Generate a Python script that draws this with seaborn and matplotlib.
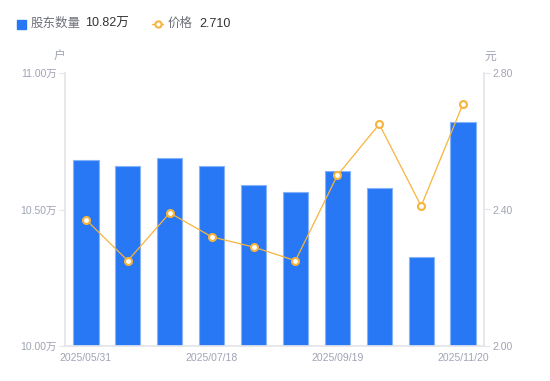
import numpy as np
import pandas as pd
import matplotlib
matplotlib.use("Agg")
import matplotlib.pyplot as plt
from matplotlib.lines import Line2D
import seaborn as sns

# data
dates = ["2025/05/31", "2025/06/20", "2025/06/30", "2025/07/18", "2025/08/08",
         "2025/08/29", "2025/09/19", "2025/09/30", "2025/10/31", "2025/11/20"]
holders = [10.68, 10.66, 10.69, 10.66, 10.59, 10.565, 10.64, 10.58, 10.325, 10.82]  # 万户
prices = [2.37, 2.25, 2.39, 2.32, 2.29, 2.25, 2.50, 2.65, 2.41, 2.71]  # 元
tick_idx = [0, 3, 6, 9]

sns.set_theme(style="white")
plt.rcParams['font.family'] = ['Liberation Sans', 'Noto Sans CJK SC', 'DejaVu Sans']

bar_color = "#2878F5"
line_color = "#F7B43C"
tick_color = "#A0A3B4"
axis_color = "#E3E5EA"

df = pd.DataFrame({"date": dates, "holders": holders, "price": prices})

fig = plt.figure(figsize=(5.5, 3.81), dpi=100)
ax = fig.add_axes([65 / 550, 35 / 381, 419 / 550, 273 / 381])

sns.barplot(data=df, x="date", y="holders", ax=ax, color=bar_color,
            width=0.6, edgecolor="#86B2FA", linewidth=0.8, saturation=1)
ax.set_ylim(10.0, 11.0)
ax.set_xlim(-0.5, len(dates) - 0.5)
ax.set_yticks([10.0, 10.5, 11.0])
ax.set_yticklabels(["10.00万", "10.50万", "11.00万"])
ax.set_xticks(tick_idx)
ax.set_xticklabels([dates[i] for i in tick_idx])
ax.set_xlabel("")
ax.set_ylabel("")

ax2 = ax.twinx()
sns.lineplot(x=np.arange(len(prices)), y=prices, ax=ax2, color=line_color,
             linewidth=0.9, marker="o", markersize=5, markerfacecolor="white",
             markeredgecolor=line_color, markeredgewidth=1.5)
ax2.set_ylim(2.0, 2.8)
ax2.set_yticks([2.0, 2.4, 2.8])
ax2.set_yticklabels(["2.00", "2.40", "2.80"])
ax2.set_ylabel("")

for a in (ax, ax2):
    for s in a.spines.values():
        s.set_visible(False)
    a.tick_params(axis="y", colors=tick_color, labelsize=7.5, length=4,
                  width=0.8, pad=2)
    a.tick_params(axis="y", which="both", color=axis_color)
ax.spines["left"].set_visible(True)
ax.spines["left"].set_color(axis_color)
ax.spines["bottom"].set_visible(True)
ax.spines["bottom"].set_color(axis_color)
ax2.spines["right"].set_visible(True)
ax2.spines["right"].set_color(axis_color)
ax.tick_params(axis="x", colors=tick_color, labelsize=7.5, length=0, pad=5)
for lab in ax.get_yticklabels() + ax2.get_yticklabels() + ax.get_xticklabels():
    lab.set_color(tick_color)

# unit labels
fig.text(59 / 550, 1 - 57 / 381, "户", color=tick_color, fontsize=8.5,
         ha="center", va="center")
fig.text(490 / 550, 1 - 57 / 381, "元", color=tick_color, fontsize=8.5,
         ha="center", va="center")

# legend header
ly = 1 - 24 / 381
fig.patches.append(plt.Rectangle((17 / 550, ly - 4.5 / 381), 9 / 550, 9 / 381,
                                 transform=fig.transFigure, color=bar_color))
fig.text(31 / 550, ly, "股东数量", color="#6E7079", fontsize=9, va="center")
fig.text(85 / 550, ly, f"{holders[-1]:.2f}万", color="#333333", fontsize=9, va="center")
fig.lines.append(Line2D([152 / 550, 163 / 550], [ly, ly], transform=fig.transFigure,
                        color=line_color, linewidth=1))
fig.lines.append(Line2D([157.5 / 550], [ly], transform=fig.transFigure, marker="o",
                        markersize=4.5, markerfacecolor="white",
                        markeredgecolor=line_color, markeredgewidth=1.5))
fig.text(168 / 550, ly, "价格", color="#6E7079", fontsize=9, va="center")
fig.text(199 / 550, ly, f"{prices[-1]:.3f}", color="#333333", fontsize=9, va="center")

fig.savefig("out.png", dpi=100)
